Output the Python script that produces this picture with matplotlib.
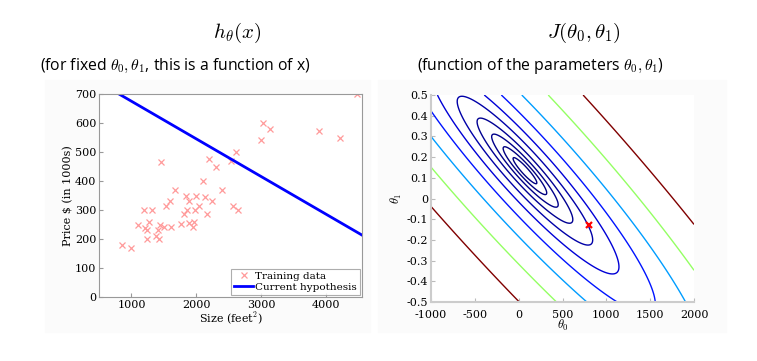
import numpy as np
import matplotlib
matplotlib.use("Agg")
import matplotlib.pyplot as plt
from matplotlib.patches import Rectangle

plt.rcParams['mathtext.fontset'] = 'cm'
plt.rcParams['axes.unicode_minus'] = False

# ---- Training data (size in feet^2, price in 1000s)
sizes = [2104, 1600, 2400, 1416, 3000, 1985, 1534, 1427, 1380, 1494,
         1940, 2000, 1890, 4478, 1268, 2300, 1320, 1236, 2609, 3031,
         1767, 1888, 1604, 1962, 3890, 1100, 1458, 2526, 2200, 2637,
         1839, 1000, 2040, 3137, 1811, 1437, 1239, 2132, 4215, 2162,
         1664, 2238, 2567, 1200, 852, 1852, 1203]
prices = [399.9, 329.9, 369.0, 232.0, 539.9, 299.9, 314.9, 199.0, 212.0, 242.5,
          240.0, 347.0, 330.0, 699.9, 259.9, 449.9, 299.9, 199.9, 500.0, 599.0,
          252.9, 255.0, 242.9, 259.9, 573.9, 249.9, 464.5, 469.0, 475.0, 299.9,
          349.9, 169.9, 314.9, 579.9, 285.9, 249.9, 229.9, 345.0, 549.0, 287.0,
          368.5, 329.9, 314.0, 299.0, 179.9, 299.9, 239.5]

# current hypothesis parameters
theta0 = 805
theta1 = -0.13

# contour levels of the cost
cost_levels = [3300, 6200, 11700, 22000, 42000, 79000, 150000, 285000,
               540000, 1016000]

size_ticks = [1000, 2000, 3000, 4000]
price_ticks = [0, 100, 200, 300, 400, 500, 600, 700]
t0_ticks = [-1000, -500, 0, 500, 1000, 1500, 2000]
t1_ticks = [-0.5, -0.4, -0.3, -0.2, -0.1, 0, 0.1, 0.2, 0.3, 0.4, 0.5]

serif = 'DejaVu Serif'
sans = 'Open Sans'

fig = plt.figure(figsize=(7.57, 3.61), dpi=100)

# faint panel backgrounds
fig.patches.append(Rectangle((45 / 757, 1 - 332 / 361), 325 / 757, 252 / 361,
                             transform=fig.transFigure, color='#fbfbfb', zorder=-1))
fig.patches.append(Rectangle((378 / 757, 1 - 332 / 361), 348 / 757, 252 / 361,
                             transform=fig.transFigure, color='#fbfbfb', zorder=-1))

# ---------- left: hypothesis
ax1 = fig.add_axes([0.1308, 0.1773, 0.3474, 0.5623])
ax1.plot(sizes, prices, 'x', color='#ff9a9a', markersize=5, mew=0.9,
         label='Training data')
xline = np.array([500, 4550])
ax1.plot(xline, theta0 + theta1 * xline, color='#0000ff', lw=2,
         label='Current hypothesis')
ax1.set_xlim(500, 4550)
ax1.set_ylim(0, 700)
ax1.set_xticks(size_ticks)
ax1.set_yticks(price_ticks)
ax1.tick_params(direction='in', length=3, color='#999999', labelsize=8,
                pad=2)
for _lab in ax1.get_xticklabels() + ax1.get_yticklabels():
    _lab.set_family(serif)
for _sp in ax1.spines.values():
    _sp.set_color('#999999')
    _sp.set_linewidth(0.8)
ax1.set_xlabel('Size (feet$^2$)', family=serif, fontsize=8, labelpad=1)
ax1.set_ylabel('Price \\$ (in 1000s)', family=serif, fontsize=8, labelpad=1)
leg = ax1.legend(loc='lower right', prop={'family': serif, 'size': 7.5},
                 fancybox=False, borderpad=0.3, labelspacing=0.15,
                 handlelength=1.8, handletextpad=0.2, borderaxespad=0.2)
leg.get_frame().set_edgecolor('#999999')
leg.get_frame().set_linewidth(0.8)

# ---------- right: cost function contours
x = np.array(sizes, dtype=float)
y = np.array(prices, dtype=float)
t0 = np.linspace(-1000, 2000, 300)
t1 = np.linspace(-0.5, 0.5, 300)
T0, T1 = np.meshgrid(t0, t1)
err = T0[..., None] + T1[..., None] * x - y
J = 0.5 * (err ** 2).mean(axis=-1)

ax2 = fig.add_axes([0.5694, 0.1634, 0.3474, 0.5734])
ax2.contour(T0, T1, J, levels=cost_levels, cmap='jet', linewidths=1.0)
ax2.plot(theta0, theta1, 'x', color='red', markersize=4, mew=1.6)
ax2.set_xlim(-1000, 2000)
ax2.set_ylim(-0.5, 0.5)
ax2.set_xticks(t0_ticks)
ax2.set_yticks(t1_ticks)
ax2.set_yticklabels(['%g' % v for v in t1_ticks])
ax2.tick_params(direction='in', length=3, color='#bbbbbb', labelsize=8)
ax2.tick_params(axis='y', pad=2)
ax2.tick_params(axis='x', pad=5.5)
for _lab in ax2.get_xticklabels() + ax2.get_yticklabels():
    _lab.set_family(serif)
ax2.spines['top'].set_visible(False)
ax2.spines['right'].set_visible(False)
ax2.spines['left'].set_color('#cccccc')
ax2.spines['bottom'].set_color('#cccccc')
ax2.spines['left'].set_linewidth(1.5)
ax2.spines['bottom'].set_linewidth(1.5)
ax2.set_xlabel(r'$\theta_0$', fontsize=9, labelpad=-1)
ax2.set_ylabel(r'$\theta_1$', fontsize=9, labelpad=2)

# ---------- titles
fig.text(237 / 757, 1 - 33 / 361, r'$h_\theta(x)$', fontsize=15,
         ha='center', va='center')
fig.text(175 / 757, 1 - 66 / 361,
         r'(for fixed $\theta_0, \theta_1$, this is a function of x)',
         family=sans, fontsize=11.3, ha='center', va='center')
fig.text(584 / 757, 1 - 33 / 361, r'$J(\theta_0, \theta_1)$', fontsize=15,
         ha='center', va='center')
fig.text(541 / 757, 1 - 66 / 361,
         r'(function of the parameters $\theta_0, \theta_1$)',
         family=sans, fontsize=11.3, ha='center', va='center')

fig.savefig('out.png', dpi=100)
